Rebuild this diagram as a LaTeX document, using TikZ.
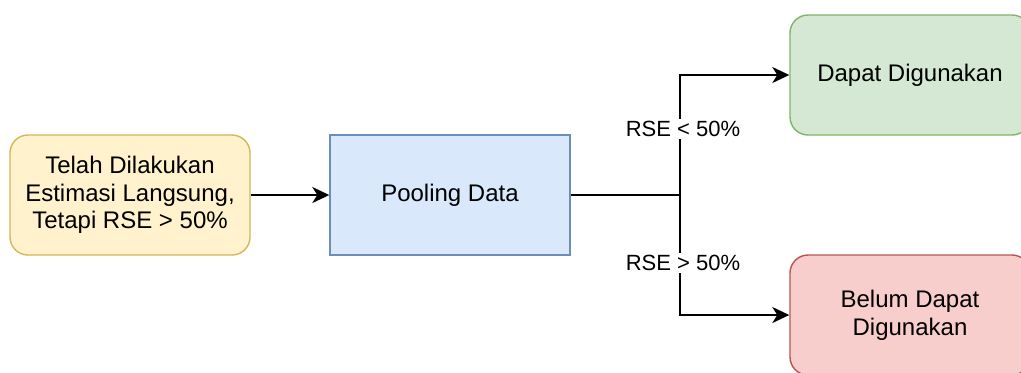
\documentclass[tikz,border=0pt]{standalone}
\usepackage{fontspec}
\setmainfont{Liberation Sans}
\usetikzlibrary{arrows.meta}

\definecolor{yelfill}{HTML}{FFF2CC}
\definecolor{yelline}{HTML}{D6B656}
\definecolor{bluefill}{HTML}{DAE8FC}
\definecolor{blueline}{HTML}{6C8EBF}
\definecolor{grnfill}{HTML}{D5E8D4}
\definecolor{grnline}{HTML}{82B366}
\definecolor{redfill}{HTML}{F8CECC}
\definecolor{redline}{HTML}{B85450}

\begin{document}
\begin{tikzpicture}[x=0.5pt,y=-0.5pt,
    box/.style={draw, line width=0.7pt, minimum width=120pt, minimum height=60pt,
      inner sep=0pt, align=center, font=\fontsize{12}{13.8}\selectfont},
    rbox/.style={box, rounded corners=9pt},
    conn/.style={line width=0.9pt, -{Stealth[length=8.5pt,width=8pt,inset=2.5pt]}},
    cond/.style={fill=white, inner sep=1pt, font=\fontsize{11}{13}\selectfont}]
    \useasboundingbox (0,0) rectangle (1021,372);
    % boxes
    \node[rbox, fill=yelfill, draw=yelline] (telah) at (130,195)
      {Telah Dilakukan\\Estimasi Langsung,\\Tetapi RSE > 50\%};
    \node[box, fill=bluefill, draw=blueline] (pool) at (450,195) {Pooling Data};
    \node[rbox, fill=grnfill, draw=grnline] (dapat) at (910,75) {Dapat Digunakan};
    \node[rbox, fill=redfill, draw=redline] (belum) at (910,315) {Belum Dapat\\Digunakan};
    \coordinate (split) at (680,195);
    %
    \draw[conn] (telah) -- (pool);
    \draw[conn] (pool) -- (split) |- (dapat.west);
    \draw[conn] (split) |- (belum.west);
    % conditions
    \node[cond] (kurang) at (683,129) {RSE < 50\%};
    \node[cond] (lebih) at (683,263) {RSE > 50\%};
\end{tikzpicture}
\end{document}
